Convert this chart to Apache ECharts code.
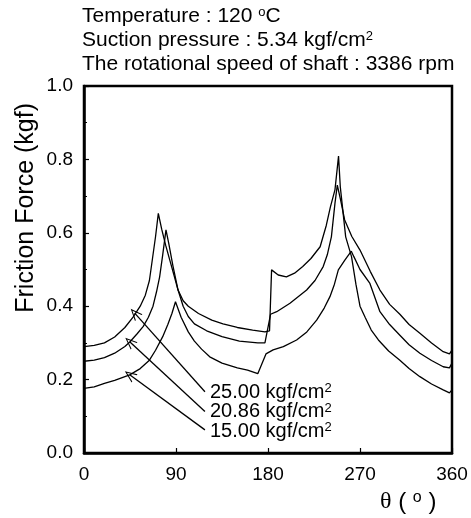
<!DOCTYPE html>
<html>
<head>
<meta charset="utf-8">
<script src="https://cdn.jsdelivr.net/npm/echarts@6/dist/echarts.min.js"></script>
<style>
  html, body { margin: 0; padding: 0; background: #fff; }
  #chart { width: 471px; height: 518px; }
</style>
</head>
<body>
<div id="chart"></div>
<script>
// crank angle (deg) and friction force (kgf)
const angleA = [0, 10, 20, 30, 40, 48, 55, 60, 64, 67, 70, 72.7, 76, 80, 84, 88, 92, 97, 102, 112, 125, 136, 150, 165, 177, 181.5, 183.5, 190, 198, 206, 214, 222, 231, 237, 241, 245.5, 249, 250.7, 256, 261.7, 266, 270, 275, 281, 288, 298, 309, 318, 328.6, 340, 351.4, 357.5, 360]
const forceA = [0.29, 0.293, 0.30, 0.316, 0.342, 0.37, 0.40, 0.43, 0.47, 0.53, 0.59, 0.653, 0.61, 0.565, 0.525, 0.485, 0.444, 0.415, 0.40, 0.38, 0.362, 0.352, 0.342, 0.335, 0.33, 0.333, 0.499, 0.485, 0.48, 0.49, 0.508, 0.53, 0.562, 0.62, 0.67, 0.717, 0.809, 0.726, 0.589, 0.535, 0.46, 0.40, 0.37, 0.335, 0.308, 0.278, 0.253, 0.23, 0.208, 0.188, 0.172, 0.164, 0.172]

const angleB = [0, 10, 20, 30, 40, 45, 52, 58, 63, 67.5, 71, 74, 77, 80.2, 83, 87, 92, 97, 102, 108, 120, 135, 152, 170, 177, 182.5, 188.5, 201.5, 217.8, 226, 234, 238, 242, 245.5, 247.8, 251, 255, 262, 270, 280, 289.5, 299, 309, 318, 328.6, 340, 351.4, 357.5, 360]
const forceB = [0.25, 0.253, 0.26, 0.272, 0.29, 0.303, 0.325, 0.345, 0.37, 0.40, 0.44, 0.48, 0.54, 0.608, 0.57, 0.51, 0.444, 0.40, 0.372, 0.352, 0.333, 0.317, 0.305, 0.30, 0.30, 0.378, 0.385, 0.408, 0.444, 0.47, 0.508, 0.54, 0.589, 0.68, 0.73, 0.69, 0.635, 0.59, 0.553, 0.495, 0.444, 0.405, 0.378, 0.35, 0.326, 0.30, 0.276, 0.27, 0.28]

const angleC = [0, 10, 20, 30, 44.7, 55, 64, 70, 77, 82, 86, 89.5, 95, 102, 108, 115, 123, 135, 150, 160, 170, 178, 185, 195, 208, 218, 227.6, 235, 240.6, 245, 248.8, 255, 261.5, 264, 270, 279.7, 289.5, 299, 309, 318, 328.6, 340, 351.4, 357.5, 360]
const forceC = [0.176, 0.18, 0.19, 0.198, 0.213, 0.23, 0.253, 0.28, 0.317, 0.35, 0.38, 0.412, 0.37, 0.33, 0.305, 0.283, 0.262, 0.245, 0.232, 0.226, 0.216, 0.27, 0.281, 0.29, 0.308, 0.33, 0.362, 0.395, 0.426, 0.46, 0.499, 0.525, 0.55, 0.535, 0.50, 0.462, 0.385, 0.35, 0.321, 0.295, 0.272, 0.252, 0.235, 0.232, 0.245]

const pressureLabels = ['25.00', '20.86', '15.00']
// arrow from label (tail) to curve (head), in data coords
const arrowTail = [[118.3, 0.167], [118.3, 0.113], [118.3, 0.063]]
const arrowHead = [[49.6, 0.381], [44.7, 0.303], [44.7, 0.213]]

const xTicks = [0, 90, 180, 270, 360]

const zip = (xs, ys) => xs.map((x, i) => [x, ys[i]])

const font = 'Liberation Sans, Arial, sans-serif'
const openArrow = 'path://M5,0L10,12L8.8,12L5,2.6L1.2,12L0,12Z'

const chart = echarts.init(document.getElementById('chart'))

const makeSeries = (name, xs, ys, idx) => ({
  name: name,
  type: 'line',
  data: zip(xs, ys),
  showSymbol: false,
  symbol: 'none',
  lineStyle: { color: '#000', width: 1.3 },
  markLine: {
    silent: true,
    symbol: ['none', openArrow],
    symbolSize: [10, 12],
    label: { show: false },
    lineStyle: { color: '#000', width: 1.3, type: 'solid' },
    itemStyle: { color: '#000' },
    data: [[{ coord: arrowTail[idx] }, { coord: arrowHead[idx] }]]
  }
})

const supRich = {
  s: { fontSize: 13, verticalAlign: 'top', lineHeight: 10, fontFamily: font, fill: '#000' }
}

const headerLines = [
  'Temperature : 120 {s|o}C',
  'Suction pressure : 5.34 kgf/cm{s|2}',
  'The rotational speed of shaft : 3386 rpm'
]

const graphics = []
headerLines.forEach((t, i) => {
  graphics.push({
    type: 'text', left: 82, top: 6 + i * 24,
    style: { text: t, font: '21px ' + font, fill: '#000', rich: supRich }
  })
})
pressureLabels.forEach((p, i) => {
  graphics.push({
    type: 'text', left: 210, top: 382 + i * 19.5,
    style: { text: p + ' kgf/cm{s|2}', font: '20px ' + font, fill: '#000', rich: supRich }
  })
})
graphics.push({
  type: 'text', left: 14, top: 103, rotation: Math.PI / 2,
  style: { text: 'Friction Force (kgf)', font: '25px ' + font, fill: '#000' }
})
graphics.push({
  type: 'text', left: 380, top: 490,
  style: {
    text: '{t|θ} ( {s|o} )',
    font: '24px ' + font, fill: '#000',
    rich: {
      t: { fontFamily: 'Liberation Serif, serif', fontSize: 24, fill: '#000' },
      s: { fontSize: 16, verticalAlign: 'top', lineHeight: 10, fontFamily: font, fill: '#000' }
    }
  }
})

chart.setOption({
  animation: false,
  backgroundColor: '#fff',
  grid: {
    left: 84, right: 19, top: 86, bottom: 65,
    show: true, borderColor: '#000', borderWidth: 2.5, backgroundColor: 'transparent'
  },
  xAxis: {
    type: 'value',
    min: 0, max: 360, interval: 90,
    axisLine: { show: true, lineStyle: { color: '#000', width: 2.5 } },
    axisTick: { show: true, inside: true, length: 5, lineStyle: { color: '#000', width: 1.2 } },
    splitLine: { show: false },
    axisLabel: {
      color: '#000', fontSize: 19, fontFamily: font, margin: 12,
      formatter: v => xTicks.includes(v) ? String(v) : ''
    }
  },
  yAxis: {
    type: 'value',
    min: 0, max: 1, interval: 0.2,
    axisLine: { show: true, lineStyle: { color: '#000', width: 2.5 } },
    axisTick: { show: true, inside: true, length: 5, lineStyle: { color: '#000', width: 1.2 } },
    minorTick: { show: true, splitNumber: 2, length: 3, lineStyle: { color: '#000', width: 1 } },
    splitLine: { show: false },
    axisLabel: {
      color: '#000', fontSize: 19, fontFamily: font, margin: 11,
      formatter: v => v.toFixed(1)
    }
  },
  series: [
    makeSeries('25.00 kgf/cm2', angleA, forceA, 0),
    makeSeries('20.86 kgf/cm2', angleB, forceB, 1),
    makeSeries('15.00 kgf/cm2', angleC, forceC, 2)
  ],
  graphic: graphics
})
</script>
</body>
</html>
